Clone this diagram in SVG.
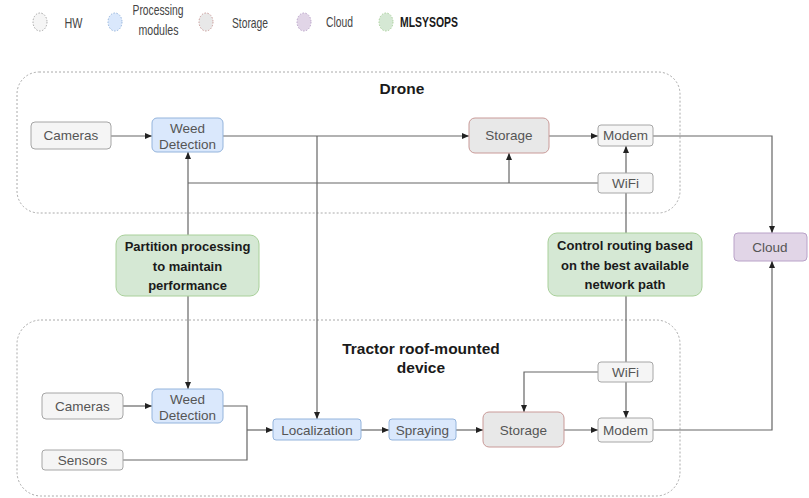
<svg xmlns="http://www.w3.org/2000/svg" width="809" height="498" viewBox="0 0 809 498">
<defs>
<style>
text{font-family:"Liberation Sans",Arial,sans-serif;}
.t{font-size:13.5px;fill:#555;text-anchor:middle;}
.lg{font-size:15px;fill:#444;text-anchor:middle;}
.b{font-weight:bold;fill:#1a1a1a;text-anchor:middle;}
.hw{fill:#f5f5f5;stroke:#a6a6a6;stroke-width:1;}
.pm{fill:#dae8fc;stroke:#94b4dc;stroke-width:1;}
.st{fill:#e8e8e8;stroke:#c99a98;stroke-width:1;}
.cl{fill:#e1d5e7;stroke:#b9a2c8;stroke-width:1;}
.ml{fill:#d5e8d4;stroke:#a9d09a;stroke-width:1;}
.lgd{stroke-dasharray:1.5 1.5;}
.grp{fill:none;stroke:#aaa;stroke-width:1;stroke-dasharray:2 2;}
.c{fill:none;stroke:#666;stroke-width:1.2;}
.a{marker-end:url(#ah);}
</style>
<marker id="ah" viewBox="0 0 7 7" refX="7" refY="3.5" markerWidth="7" markerHeight="7" markerUnits="userSpaceOnUse" orient="auto">
<path d="M0,0.5 L7,3.5 L0,6.5 z" fill="#222"/>
</marker>
</defs>

<g id="legend">
<ellipse class="hw lgd" cx="40" cy="22" rx="7" ry="9"/>
<text class="lg" x="73.5" y="28" textLength="18" lengthAdjust="spacingAndGlyphs">HW</text>
<ellipse class="pm lgd" cx="115" cy="22" rx="7" ry="9"/>
<text class="lg" x="158" y="15" textLength="51" lengthAdjust="spacingAndGlyphs">Processing</text>
<text class="lg" x="158.5" y="35" textLength="40" lengthAdjust="spacingAndGlyphs">modules</text>
<ellipse class="st lgd" cx="206" cy="22" rx="7" ry="9"/>
<text class="lg" x="250" y="28" textLength="36" lengthAdjust="spacingAndGlyphs">Storage</text>
<ellipse class="cl lgd" cx="304" cy="22" rx="7" ry="9"/>
<text class="lg" x="339.5" y="27" textLength="27" lengthAdjust="spacingAndGlyphs">Cloud</text>
<ellipse class="ml lgd" cx="386" cy="22" rx="7" ry="9"/>
<text class="lg b" x="429" y="27" textLength="58" lengthAdjust="spacingAndGlyphs">MLSYSOPS</text>
</g>

<g id="drone">
<rect class="grp" x="17" y="72" width="663" height="141" rx="22"/>
<text class="b" x="402" y="94" font-size="15.5">Drone</text>
</g>
<g id="tractor">
<rect class="grp" x="17" y="320" width="663" height="176" rx="24"/>
<text class="b" x="421" y="354" font-size="15.5">Tractor roof-mounted</text>
<text class="b" x="421" y="373" font-size="15.5">device</text>
</g>

<g id="connectors">
<path class="c a" d="M111,136 H152"/>
<path class="c a" d="M223,136 H469"/>
<path class="c a" d="M317,136 V419"/>
<path class="c a" d="M549,136 H598"/>
<path class="c a" d="M626,173 V146"/>
<path class="c" d="M598,183 H188"/>
<path class="c a" d="M188,235 V152"/>
<path class="c a" d="M509,183 V153"/>
<path class="c a" d="M653,136 H772 V233"/>
<path class="c" d="M626,193 V233"/>
<path class="c" d="M626,296 V362"/>
<path class="c a" d="M188,296 V389"/>
<path class="c a" d="M123,406 H152"/>
<path class="c" d="M223,406 H247 V460 H123"/>
<path class="c a" d="M247,430 H273"/>
<path class="c a" d="M361,430 H389"/>
<path class="c a" d="M456,430 H483"/>
<path class="c a" d="M564,430 H598"/>
<path class="c a" d="M626,382 V418"/>
<path class="c a" d="M598,372 H524 V412"/>
<path class="c a" d="M653,430 H772 V261"/>
</g>

<g id="d-cameras"><rect class="hw" x="31" y="122" width="80" height="27" rx="4"/><text class="t" x="71" y="140">Cameras</text></g>
<g id="d-weed"><rect class="pm" x="152" y="118" width="71" height="34" rx="5"/><text class="t" x="187.5" y="133">Weed</text><text class="t" x="187.5" y="149">Detection</text></g>
<g id="d-storage"><rect class="st" x="469" y="118" width="80" height="35" rx="6"/><text class="t" x="509" y="140">Storage</text></g>
<g id="d-modem"><rect class="hw" x="598" y="125" width="55" height="21" rx="3"/><text class="t" x="625.5" y="140">Modem</text></g>
<g id="d-wifi"><rect class="hw" x="598" y="173" width="55" height="20" rx="3"/><text class="t" x="625.5" y="188">WiFi</text></g>

<g id="cloud"><rect class="cl" x="734" y="233" width="73" height="28" rx="4"/><text class="t" x="770" y="252">Cloud</text></g>

<g id="ml-partition"><rect class="ml" x="116" y="235" width="143" height="61" rx="9"/>
<text class="b" x="187.5" y="251" font-size="13">Partition processing</text>
<text class="b" x="187.5" y="271" font-size="13">to maintain</text>
<text class="b" x="187.5" y="290" font-size="13">performance</text></g>
<g id="ml-routing"><rect class="ml" x="548" y="233" width="154" height="63" rx="9"/>
<text class="b" x="625" y="250" font-size="13">Control routing based</text>
<text class="b" x="625" y="270" font-size="13">on the best available</text>
<text class="b" x="625" y="289" font-size="13">network path</text></g>

<g id="t-cameras"><rect class="hw" x="42" y="393" width="81" height="26" rx="4"/><text class="t" x="82.5" y="410.5">Cameras</text></g>
<g id="t-sensors"><rect class="hw" x="42" y="450" width="81" height="20" rx="3"/><text class="t" x="82.5" y="464.5">Sensors</text></g>
<g id="t-weed"><rect class="pm" x="152" y="389" width="71" height="34" rx="5"/><text class="t" x="187.5" y="404">Weed</text><text class="t" x="187.5" y="420">Detection</text></g>
<g id="t-localization"><rect class="pm" x="273" y="419" width="88" height="21" rx="3"/><text class="t" x="317" y="434.5">Localization</text></g>
<g id="t-spraying"><rect class="pm" x="389" y="419" width="67" height="21" rx="3"/><text class="t" x="422.5" y="434.5">Spraying</text></g>
<g id="t-storage"><rect class="st" x="483" y="412" width="81" height="35" rx="6"/><text class="t" x="523.5" y="434.5">Storage</text></g>
<g id="t-wifi"><rect class="hw" x="598" y="362" width="55" height="20" rx="3"/><text class="t" x="625.5" y="377">WiFi</text></g>
<g id="t-modem"><rect class="hw" x="598" y="418" width="55" height="24" rx="3"/><text class="t" x="625.5" y="434.5">Modem</text></g>
</svg>
